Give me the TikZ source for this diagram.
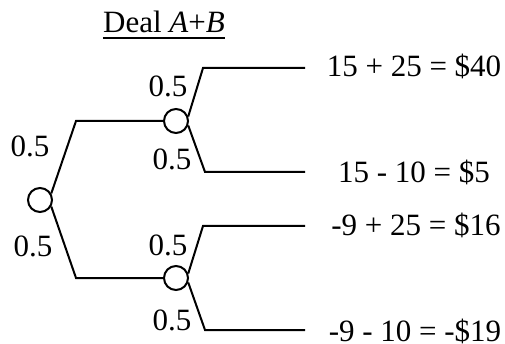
\documentclass[tikz,border=0pt]{standalone}
\usepackage{fontspec}
\setmainfont{Liberation Serif}
\begin{document}
\begin{tikzpicture}[x=1pt,y=-1pt,
  chance/.style={draw,circle,minimum size=24pt,inner sep=0pt,line width=2pt},
  branch/.style={line width=2pt,line join=miter},
  lbl/.style={inner sep=0pt,anchor=base,font=\fontsize{31}{36}\selectfont},
]
\useasboundingbox (0,0) rectangle (505,344);
% chance nodes
\node[chance] (r) at (40,200) {};
\node[chance] (u) at (176,121) {};
\node[chance] (l) at (176,278) {};
% corners and leaf ends
\coordinate (ru) at (76,121);
\coordinate (rl) at (76,278);
\coordinate (uu) at (203,68);
\coordinate (ud) at (205,172);
\coordinate (lu) at (203,226);
\coordinate (ld) at (205,330);
\coordinate (e1) at (305,68);
\coordinate (e2) at (305,172);
\coordinate (e3) at (305,226);
\coordinate (e4) at (305,330);
% connectors
\draw[branch] (r.30) -- (ru) -- (u.west);
\draw[branch] (r.-30) -- (rl) -- (l.west);
\draw[branch] (u.20) -- (uu) -- (e1);
\draw[branch] (u.-20) -- (ud) -- (e2);
\draw[branch] (l.20) -- (lu) -- (e3);
\draw[branch] (l.-20) -- (ld) -- (e4);
% title
\node[lbl] (t) at (164,33) {Deal \textit{A}+\textit{B}};
\draw[line width=1.5pt] ([yshift=-5pt]t.base west) -- ([yshift=-5pt]t.base east);
% probabilities
\node[lbl] (p1) at (30,157) {0.5};
\node[lbl] (p2) at (33,256) {0.5};
\node[lbl] (p3) at (168,97) {0.5};
\node[lbl] (p4) at (172,170) {0.5};
\node[lbl] (p5) at (168,255) {0.5};
\node[lbl] (p6) at (172,330) {0.5};
% payoffs
\node[lbl] (v1) at (414,76.5) {15 + 25 = \$40};
\node[lbl] (v2) at (414,182.5) {15 - 10 = \$5};
\node[lbl] (v3) at (416,235.5) {-9 + 25 = \$16};
\node[lbl] (v4) at (415,341) {-9 - 10 = -\$19};
\end{tikzpicture}
\end{document}
